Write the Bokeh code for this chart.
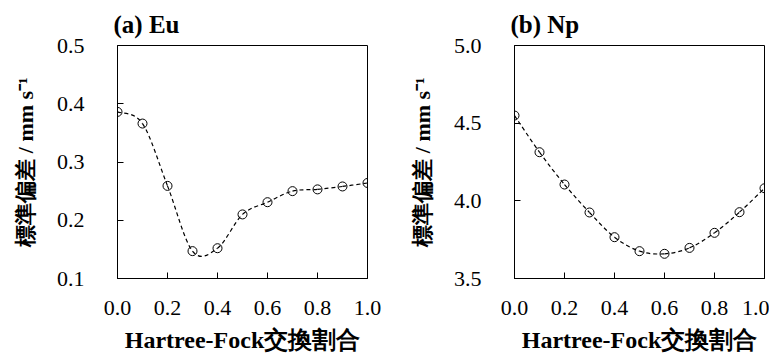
import numpy as np
from bokeh.plotting import figure
from bokeh.layouts import row
from bokeh.models import FixedTicker, PrintfTickFormatter, Range1d
from bokeh.embed import file_html
from bokeh.resources import INLINE

# ---- data ----
hf_ratio = [0.0, 0.1, 0.2, 0.3, 0.4, 0.5, 0.6, 0.7, 0.8, 0.9, 1.0]
eu_sd = [0.386, 0.366, 0.259, 0.147, 0.152, 0.210, 0.231, 0.250, 0.253, 0.258, 0.264]
np_sd = [4.549, 4.313, 4.105, 3.925, 3.766, 3.676, 3.659, 3.697, 3.794, 3.927, 4.081]
x_ticks = [0.0, 0.2, 0.4, 0.6, 0.8, 1.0]
eu_ticks = [0.1, 0.2, 0.3, 0.4, 0.5]
np_ticks = [3.5, 4.0, 4.5, 5.0]
titles = ["(a) Eu", "(b) Np"]
x_label = "Hartree-Fock交換割合"
y_label = "標準偏差 / mm s⁻¹"

SERIF = "'Liberation Serif', 'Times New Roman', serif"


def smooth_segments(xs, ys):
    """Catmull-Rom style cubic Bezier segments through the data points."""
    x = np.asarray(xs, float)
    y = np.asarray(ys, float)
    n = len(x)
    xp = np.concatenate([[x[0]], x, [x[-1]]])
    yp = np.concatenate([[y[0]], y, [y[-1]]])
    seg = dict(x0=[], y0=[], x1=[], y1=[], cx0=[], cy0=[], cx1=[], cy1=[])
    for i in range(n - 1):
        a, b, c, d = i, i + 1, i + 2, i + 3
        seg["x0"].append(xp[b]); seg["y0"].append(yp[b])
        seg["x1"].append(xp[c]); seg["y1"].append(yp[c])
        seg["cx0"].append(xp[b] + (xp[c] - xp[a]) / 6.0)
        seg["cy0"].append(yp[b] + (yp[c] - yp[a]) / 6.0)
        seg["cx1"].append(xp[c] - (xp[d] - xp[b]) / 6.0)
        seg["cy1"].append(yp[c] - (yp[d] - yp[b]) / 6.0)
    return seg


def make_panel(title, ys, yticks, border_left, border_right):
    p = figure(frame_width=250, frame_height=233,
               x_range=Range1d(0.0, 1.0),
               y_range=Range1d(yticks[0], yticks[-1]),
               min_border_left=border_left, min_border_right=border_right,
               min_border_top=45, min_border_bottom=75,
               output_backend="svg", toolbar_location=None,
               background_fill_color="white", border_fill_color="white")
    p.title.text = title
    p.title.text_font = SERIF
    p.title.text_font_style = "bold"
    p.title.text_font_size = "25px"
    p.title.text_color = "black"
    p.title.align = "left"
    p.title.offset = -4
    p.title.standoff = 15

    p.outline_line_color = "black"
    p.outline_line_alpha = 1.0
    p.outline_line_width = 1
    p.xgrid.grid_line_color = None
    p.ygrid.grid_line_color = None

    p.xaxis.ticker = FixedTicker(ticks=x_ticks)
    p.yaxis.ticker = FixedTicker(ticks=yticks)
    p.xaxis.formatter = PrintfTickFormatter(format="%.1f")
    p.yaxis.formatter = PrintfTickFormatter(format="%.1f")

    for ax in (p.xaxis, p.yaxis):
        ax.axis_line_color = "black"
        ax.major_tick_line_color = "black"
        ax.major_tick_in = 6
        ax.major_tick_out = 0
        ax.minor_tick_line_color = None
        ax.major_label_text_font = SERIF
        ax.major_label_text_font_size = "22px"
        ax.major_label_text_color = "black"
        ax.axis_label_text_font = SERIF
        ax.axis_label_text_font_style = "bold"
        ax.axis_label_text_color = "black"

    p.xaxis.axis_label = x_label
    p.yaxis.axis_label = y_label
    p.xaxis.axis_label_text_font_size = "24px"
    p.yaxis.axis_label_text_font_size = "22px"
    p.xaxis.major_label_standoff = 22
    p.xaxis.axis_label_standoff = 9
    p.yaxis.major_label_standoff = 33
    p.yaxis.axis_label_standoff = 16

    seg = smooth_segments(hf_ratio, ys)
    p.bezier(x0=seg["x0"], y0=seg["y0"], x1=seg["x1"], y1=seg["y1"],
             cx0=seg["cx0"], cy0=seg["cy0"], cx1=seg["cx1"], cy1=seg["cy1"],
             line_color="black", line_width=1.2, line_dash="4 3")
    p.scatter(hf_ratio, ys, marker="circle", size=9, fill_alpha=0,
              line_color="black", line_width=1)
    return p


p1 = make_panel(titles[0], eu_sd, eu_ticks, 117, 39)
p2 = make_panel(titles[1], np_sd, np_ticks, 106, 5)
layout = row(p1, p2)

open("out.html", "w").write(file_html(layout, INLINE))
